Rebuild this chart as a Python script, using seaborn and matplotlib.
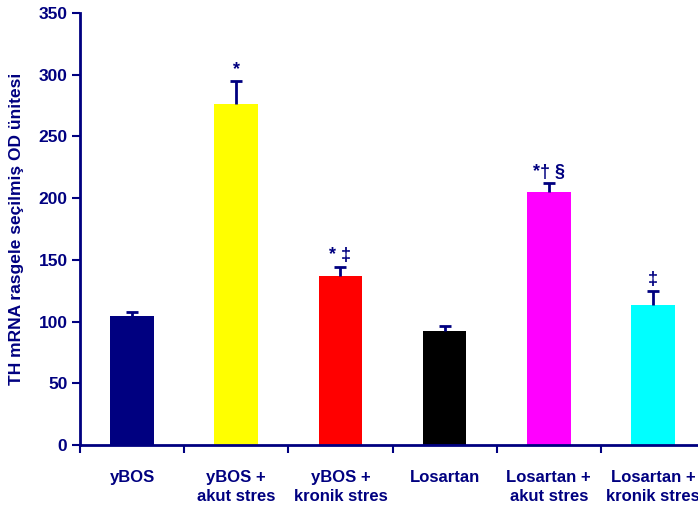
import matplotlib
matplotlib.use("Agg")
import matplotlib.pyplot as plt
import seaborn as sns
import pandas as pd

# Groups, mean TH mRNA values and upper error (SEM)
groups = ["yBOS", "yBOS +\nakut stres", "yBOS +\nkronik stres",
          "Losartan", "Losartan +\nakut stres", "Losartan +\nkronik stres"]
values = [104.5, 276, 137, 92, 205, 113.5]
errors = [3.5, 19, 7.5, 4.5, 7, 11.5]
marks = ["", "*", "* \u2021", "", "*\u2020 \u00a7", "\u2021"]
colors = ["#000080", "#FFFF00", "#FF0000", "#000000", "#FF00FF", "#00FFFF"]

navy = "#000080"

sns.set_theme(style="white")
plt.rcParams["font.family"] = ["Liberation Sans", "DejaVu Sans"]
plt.rcParams["font.weight"] = "bold"

df = pd.DataFrame({"grup": groups, "deger": values})

fig = plt.figure(figsize=(6.98, 5.07), dpi=100)
ax = fig.add_axes([80 / 698, 62 / 507, 625 / 698, 432 / 507])

sns.barplot(data=df, x="grup", y="deger", hue="grup", palette=colors,
            width=0.42, saturation=1, legend=False, ax=ax, linewidth=0)

xs = list(range(len(groups)))
eb = ax.errorbar(xs, values, yerr=[[0] * len(errors), errors], fmt="none",
                 ecolor=navy, elinewidth=2, capsize=4, capthick=2)
# only the upper cap is shown
eb[1][0].set_visible(False)

for x, v, e, m in zip(xs, values, errors, marks):
    if m:
        ax.annotate(m, (x, v + e), xytext=(0, 2), textcoords="offset points",
                    ha="center", va="bottom", color=navy, fontsize=13,
                    fontweight="bold")

ax.set_xlim(-0.5, 5.5)
ax.set_ylim(0, 350)
ax.set_yticks(range(0, 351, 50))
ax.set_xticks([i - 0.5 for i in range(7)], minor=False)
ax.set_xticklabels([])
ax.set_xticks(xs, minor=True)
ax.set_xticklabels(groups, minor=True, fontsize=12, fontweight="bold",
                   color=navy, linespacing=1.3, va="top")
ax.tick_params(axis="x", which="minor", length=0, pad=18)
ax.tick_params(axis="x", which="major", length=6, width=1.5, color=navy,
               direction="out", bottom=True)
ax.tick_params(axis="y", length=6, width=1.5, color=navy, direction="out",
               left=True, labelsize=12.5, labelcolor=navy, pad=3)
for lbl in ax.get_yticklabels():
    lbl.set_fontweight("bold")

ax.set_xlabel("")
ax.set_ylabel("TH mRNA rasgele seçilmiş OD ünitesi", color=navy,
              fontsize=12.5, fontweight="bold", labelpad=10)

for side in ["top", "right"]:
    ax.spines[side].set_visible(False)
for side in ["left", "bottom"]:
    ax.spines[side].set_color(navy)
    ax.spines[side].set_linewidth(2)

fig.savefig("out.png", dpi=100)
